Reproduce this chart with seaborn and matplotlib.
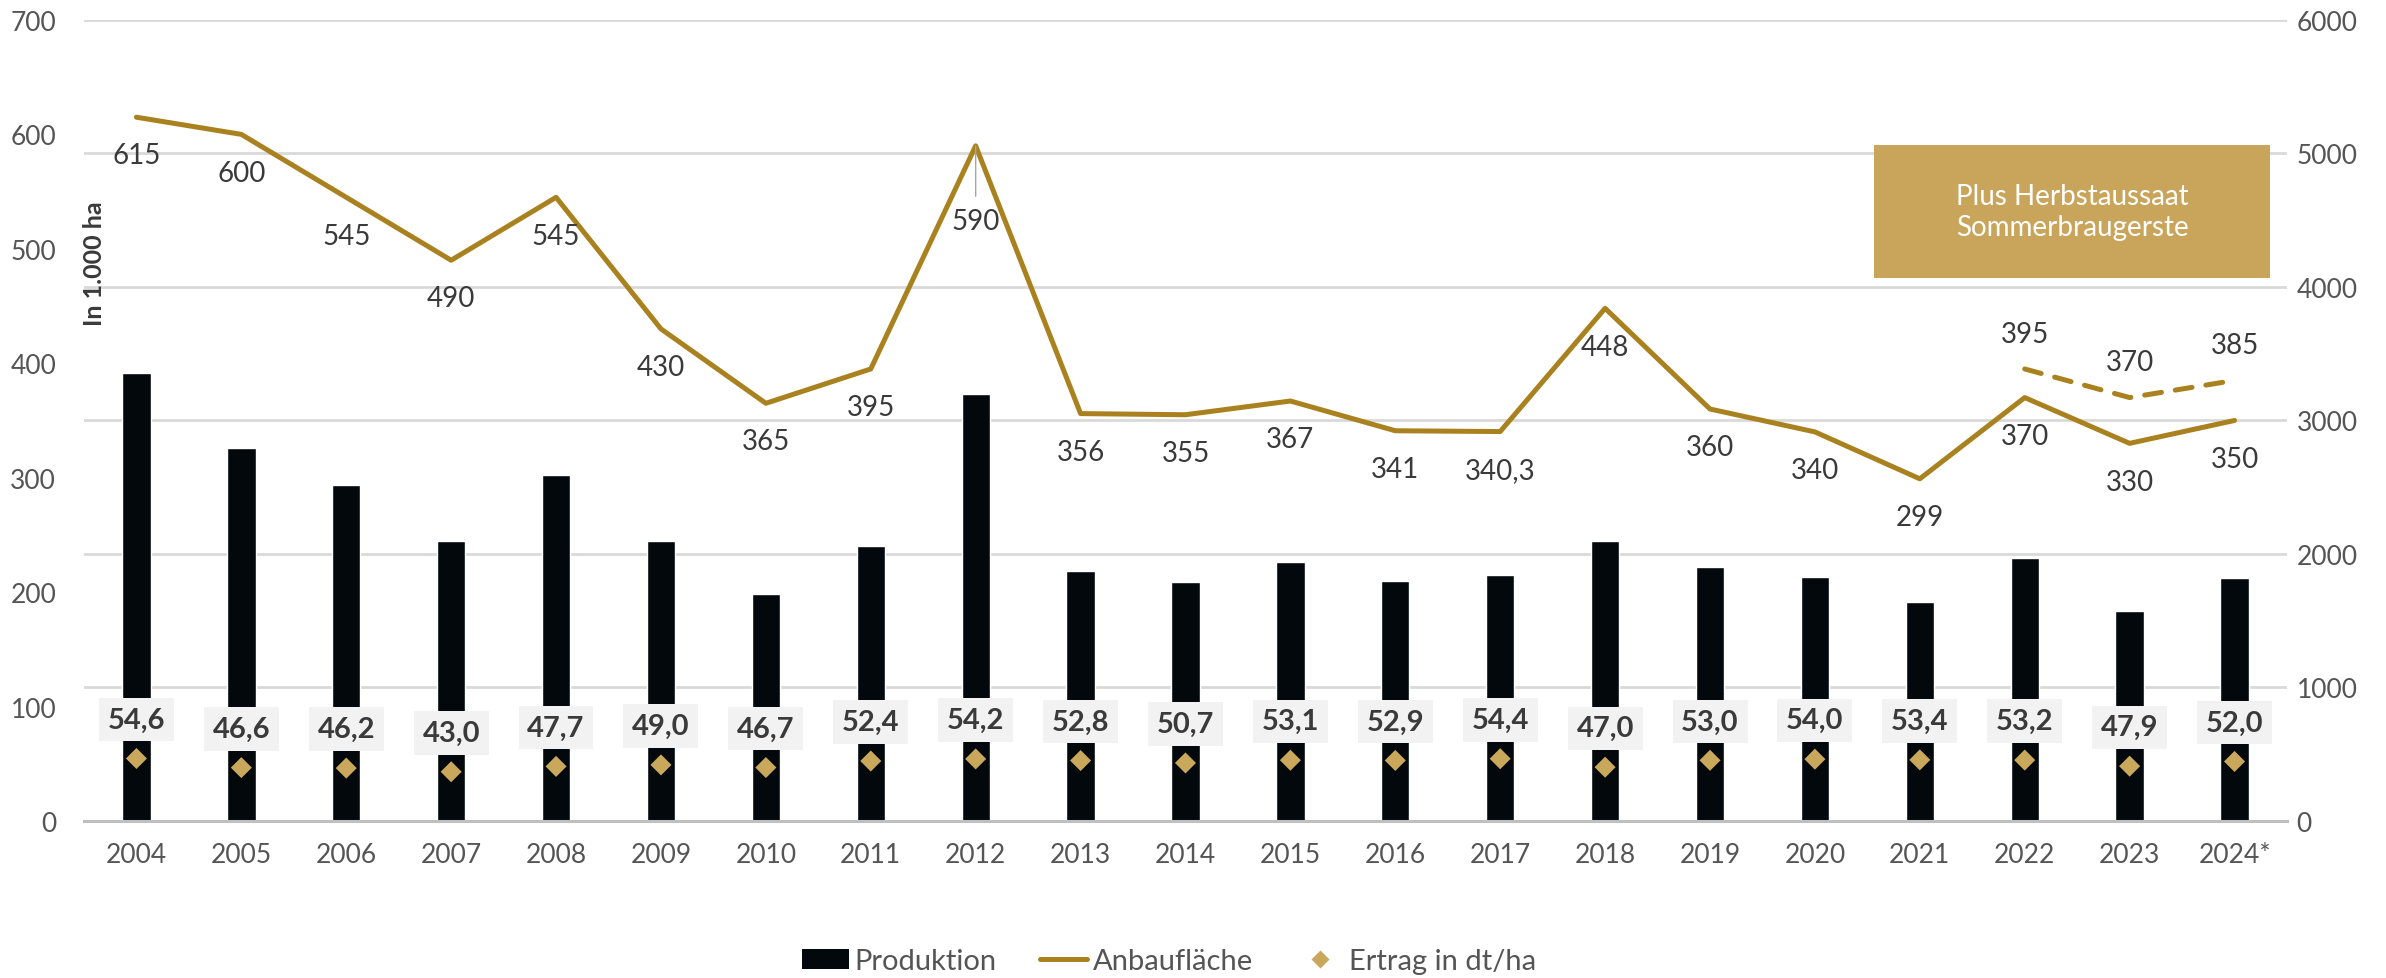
import numpy as np
import pandas as pd
import matplotlib
matplotlib.use("Agg")
import matplotlib.pyplot as plt
import seaborn as sns
from matplotlib.patches import Patch, Rectangle
from matplotlib.lines import Line2D

# ---------------- data ----------------
years = ["2004", "2005", "2006", "2007", "2008", "2009", "2010", "2011", "2012",
         "2013", "2014", "2015", "2016", "2017", "2018", "2019", "2020", "2021",
         "2022", "2023", "2024*"]
produktion = [3355, 2793, 2513, 2100, 2595, 2100, 1700, 2062, 3195, 1875, 1792,
              1942, 1799, 1845, 2100, 1905, 1830, 1637, 1967, 1575, 1817]
anbauflaeche = [615, 600, 545, 490, 545, 430, 365, 395, 590, 356, 355, 367, 341,
                340.3, 448, 360, 340, 299, 370, 330, 350]
herbst_years = ["2022", "2023", "2024*"]
herbst_values = [395, 370, 385]
ertrag = [54.6, 46.6, 46.2, 43.0, 47.7, 49.0, 46.7, 52.4, 54.2, 52.8, 50.7, 53.1,
          52.9, 54.4, 47.0, 53.0, 54.0, 53.4, 53.2, 47.9, 52.0]
left_ticks = [0, 100, 200, 300, 400, 500, 600, 700]
right_ticks = [0, 1000, 2000, 3000, 4000, 5000, 6000]

# ---------------- style ----------------
BAR = "#02080B"
LINE = "#A9821F"
DIAM = "#C9A75B"
BOX = "#C8A55A"
TXT = "#3A3A3A"
TICK = "#555555"
GRID = "#D9D9D9"
FS = 20
TFS = 19

sns.set_theme(style="white")
plt.rcParams["font.family"] = ["Lato", "DejaVu Sans"]

fig = plt.figure(figsize=(23.86, 9.79), dpi=100)
ax = fig.add_axes([0.0352, 0.1604, 0.9233, 0.8182])

df = pd.DataFrame({"Jahr": years, "Produktion": produktion})
sns.barplot(data=df, x="Jahr", y="Produktion", color=BAR, saturation=1,
            width=0.27, ax=ax, zorder=2)
ax.set_ylim(0, 6000)
ax.set_xlim(-0.5, len(years) - 0.5)
ax.set_yticks(right_ticks)
ax.grid(axis="y", color=GRID, linewidth=2)
ax.set_axisbelow(True)
ax.set_xlabel("")
ax.set_ylabel("")
for s in ["top", "left", "right"]:
    ax.spines[s].set_visible(False)
ax.spines["bottom"].set_color("#BFBFBF")
ax.spines["bottom"].set_linewidth(2.2)
ax.set_xticks(range(len(years)))
ax.set_xticklabels(years)
ax.set_xticks(np.arange(-0.5, len(years), 1), minor=True)
ax.tick_params(axis="x", which="major", length=0, labelsize=TFS,
               labelcolor=TICK, pad=15)
ax.tick_params(axis="x", which="minor", length=9, width=2.2, color="#BFBFBF",
               direction="out")

ax2 = ax.twinx()
ax2.set_ylim(0, 700)
ax2.set_yticks(left_ticks)
ax2.yaxis.tick_left()
ax.yaxis.tick_right()
ax.tick_params(axis="y", which="both", length=0, labelsize=TFS,
               labelcolor=TICK, pad=7)
for s in ax2.spines.values():
    s.set_visible(False)
ax2.tick_params(axis="y", length=0, labelsize=TFS, labelcolor=TICK, pad=20)
ax2.grid(False)

xpos = np.arange(len(years))
sns.lineplot(x=xpos, y=anbauflaeche, ax=ax2, color=LINE, linewidth=3.6,
             sort=False, legend=False, zorder=3)
hx = [years.index(y) for y in herbst_years]
ax2.plot(hx, herbst_values, color=LINE, linewidth=3.6, dashes=(3.4, 2.8),
         dash_capstyle="round", zorder=3)
sns.scatterplot(x=xpos, y=ertrag, ax=ax2, marker="D", s=115, color=DIAM,
                edgecolor="none", legend=False, zorder=5)

def fmt(v, dec=None):
    s = f"{v:.{dec}f}" if dec is not None else f"{v:g}"
    return s.replace(".", ",")

# line labels (below)
for i, v in enumerate(anbauflaeche):
    if years[i] == "2012":
        ax2.annotate(fmt(v), (i, v), xytext=(0, -54), textcoords="offset points",
                     ha="center", va="center", fontsize=FS, color=TXT,
                     arrowprops=dict(arrowstyle="-", color="#A6A6A6", lw=1,
                                     shrinkA=6, shrinkB=0), zorder=6)
    else:
        ax2.annotate(fmt(v), (i, v), xytext=(0, -27.5), textcoords="offset points",
                     ha="center", va="center", fontsize=FS, color=TXT, zorder=6)
# dashed labels (above)
for i, v in zip(hx, herbst_values):
    ax2.annotate(fmt(v), (i, v), xytext=(0, 25.5), textcoords="offset points",
                 ha="center", va="center", fontsize=FS, color=TXT, zorder=6)
# yield labels
for i, v in enumerate(ertrag):
    ax2.annotate(fmt(v, 1), (i, v), xytext=(0, 28), textcoords="offset points",
                 ha="center", va="center", fontsize=21, fontweight="bold",
                 color=TXT, zorder=7,
                 bbox=dict(boxstyle="square,pad=0.3", fc="#F2F2F2", ec="none"))

# annotation box
ax2.add_patch(Rectangle((0.8125, 0.678), 0.1798, 0.166, transform=ax2.transAxes,
                        facecolor=BOX, edgecolor="none", zorder=4))
ax2.text(0.9024, 0.761, "Plus Herbstaussaat\nSommerbraugerste",
         transform=ax2.transAxes, ha="center", va="center", color="white",
         fontsize=20, linespacing=1.25, zorder=5)

# axis title
ax2.text(0.0046, 0.697, "In 1.000 ha", transform=ax2.transAxes, rotation=90,
         ha="center", va="center", fontsize=18, fontweight="bold", color=TXT)

handles = [Patch(facecolor=BAR, edgecolor="none"),
           Line2D([0], [0], color=LINE, linewidth=3.6),
           Line2D([0], [0], marker="D", color=DIAM, linestyle="none",
                  markersize=9, markeredgecolor="none")]
fig.legend(handles, ["Produktion", "Anbaufläche", "Ertrag in dt/ha"],
           loc="center", bbox_to_anchor=(0.49, 1 - 962 / 979), ncol=3,
           frameon=False, fontsize=21, handlelength=1.6, handletextpad=0.2,
           columnspacing=1.5, labelcolor=TICK)

fig.savefig("out.png", dpi=100)
